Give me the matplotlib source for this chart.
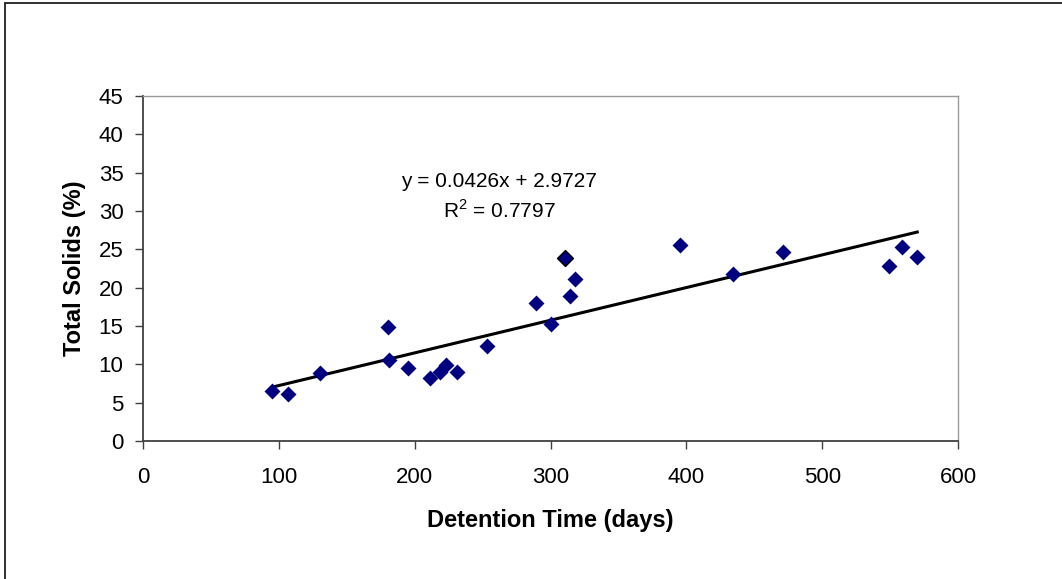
import matplotlib.pyplot as plt
from matplotlib.patches import Rectangle

plt.rcParams['font.family'] = ['Liberation Sans', 'DejaVu Sans']
plt.rcParams['mathtext.fontset'] = 'custom'
plt.rcParams['mathtext.rm'] = 'Liberation Sans'

# detention time (days) vs total solids (%)
days = [95, 107, 130, 180, 181, 195, 211, 219, 223, 231, 253, 289, 300,
        311, 314, 318, 395, 434, 471, 549, 559, 570]
solids = [6.5, 6.1, 8.9, 14.9, 10.6, 9.5, 8.2, 9.0, 9.9, 9.0, 12.4, 18.0, 15.3,
          23.9, 18.9, 21.1, 25.6, 21.8, 24.6, 22.8, 25.3, 24.0]
slope = 0.0426
intercept = 2.9727
r2 = 0.7797

fig = plt.figure(figsize=(10.62, 5.79), dpi=100)
ax = fig.add_axes([143/1062, 1-441/579, (958-143)/1062, (441-96)/579])

# outer chart frame (only left/top visible in reference)
fig.patches.append(Rectangle((4.5/1062, -0.1), 1.2, 1 - 3.5/579 + 0.1,
                             transform=fig.transFigure, fill=False,
                             edgecolor='#202020', linewidth=1.3))

ax.scatter(days, solids, marker='D', s=66, color='#000080', zorder=3,
           linewidths=0)
ax.scatter([days[13]], [solids[13]], marker='D', s=66, color='#000080',
           edgecolors='black', linewidths=1.0, zorder=4)

x0, x1 = min(days), max(days)
ax.plot([x0, x1], [slope*x0 + intercept, slope*x1 + intercept],
        color='black', linewidth=2.2, zorder=2)

ax.text(262, 33.9, 'y = %.4fx + %.4f' % (slope, intercept), ha='center',
        va='center', fontsize=15)
ax.text(262, 30.0, 'R$^2$ = %.4f' % r2, ha='center', va='center', fontsize=15)

ax.set_xlim(0, 600)
ax.set_ylim(0, 45)
ax.set_xticks(range(0, 601, 100))
ax.set_yticks(range(0, 46, 5))
ax.tick_params(labelsize=16, length=6, width=1, color='#404040', direction='out')
ax.tick_params(axis='x', pad=13)
ax.tick_params(axis='y', pad=8)

for side in ['left', 'bottom']:
    ax.spines[side].set_color('#404040')
    ax.spines[side].set_linewidth(1.3)
for side in ['top', 'right']:
    ax.spines[side].set_color('#9a9a9a')
    ax.spines[side].set_linewidth(1.0)

ax.set_xlabel('Detention Time (days)', fontsize=17, fontweight='bold', labelpad=15)
ax.set_ylabel('Total Solids (%)', fontsize=17, fontweight='bold', labelpad=9)

fig.savefig('out.png', dpi=100)
